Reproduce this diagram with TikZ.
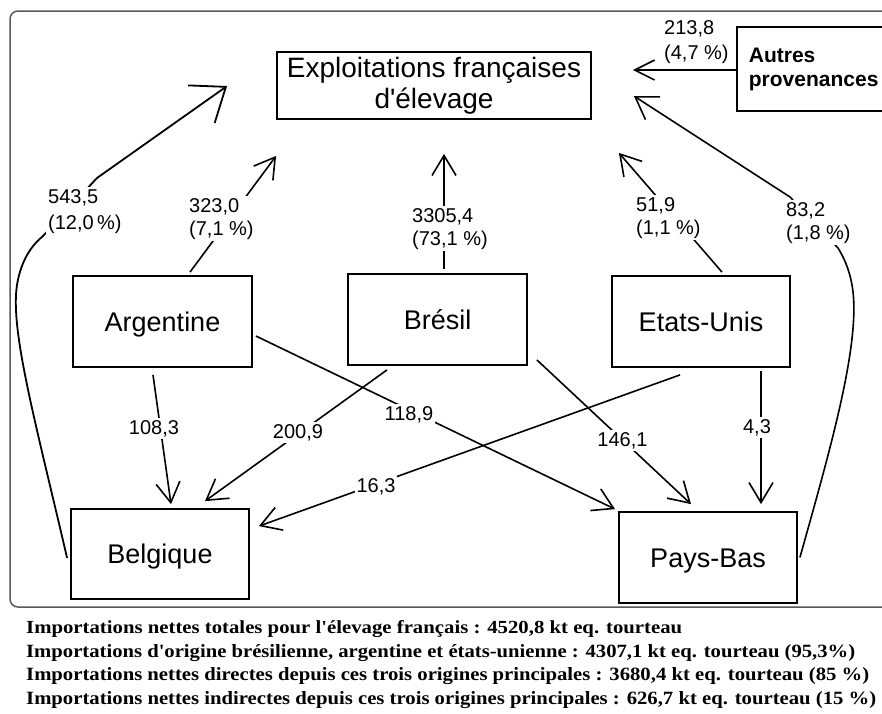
\documentclass[tikz,border=0pt]{standalone}
\usepackage{fontspec}
\setmainfont{Liberation Sans}
\newfontfamily\serifb{Liberation Serif}
\usetikzlibrary{arrows.meta}
\begin{document}
\begin{tikzpicture}[x=1pt,y=-1pt,
  box/.style={draw, line width=1.8pt, inner sep=0pt, font=\fontsize{27}{31}\selectfont},
  cbox/.style={box, text height=19pt, text depth=0pt},
  flow/.style={line width=1.6pt, -{Straight Barb[length=20pt,width=24pt]}},
  bigflow/.style={line width=1.8pt, -{Straight Barb[length=30pt,width=46pt]}},
  num/.style={fill=white, inner sep=2pt, font=\fontsize{20}{23}\selectfont, align=left},
  foot/.style={anchor=base west, inner sep=0pt},
]
\useasboundingbox (0,0) rectangle (882,713);
\clip (0,0) rectangle (882,713);
\draw[rounded corners=8pt, line width=1.5pt, black!65] (10,11) rectangle (920,607);

% boxes
\node[box, minimum width=314pt, minimum height=67pt, align=center, font=\fontsize{28}{31}\selectfont] (expl) at (434,85.5) {Exploitations françaises\\d\textquotesingle élevage};
\node[box, anchor=west, minimum height=84pt, text width=160pt, inner xsep=12pt, align=left, font=\bfseries\fontsize{21}{24}\selectfont] (aut) at (736,69) {Autres\\provenances};
\node[cbox, minimum width=179pt, minimum height=91pt] (arg) at (162.5,321.5) {Argentine};
\node[cbox, minimum width=179pt, minimum height=91pt] (bre) at (437.5,319.5) {Brésil};
\node[cbox, minimum width=178pt, minimum height=91pt] (eu) at (701,321.5) {Etats-Unis};
\node[cbox, minimum width=178pt, minimum height=90pt] (bel) at (160,554) {Belgique};
\node[cbox, minimum width=178pt, minimum height=91pt] (pb) at (708,557.5) {Pays-Bas};

% flows between countries
\draw[flow] ([xshift=-9.5pt,yshift=-7pt]arg.south) -- ([xshift=11pt,yshift=4pt]bel.north);
\draw[flow] ([xshift=-50.5pt,yshift=-4pt]bre.south) -- ([xshift=45pt,yshift=7pt]bel.north);
\draw[flow] ([xshift=3pt,yshift=-14.5pt]arg.east) -- ([xshift=-93pt,yshift=2pt]pb.north);
\draw[flow] ([xshift=9pt,yshift=6pt]bre.south east) -- ([xshift=-17pt,yshift=7pt]pb.north);
\draw[flow] ([xshift=-21pt,yshift=-7pt]eu.south) -- ([xshift=9pt,yshift=-18pt]bel.north east);
\draw[flow] ([xshift=60pt,yshift=-3pt]eu.south) -- ([xshift=53pt,yshift=7pt]pb.north);

% flows to France
\draw[flow] ([xshift=27.5pt,yshift=3pt]arg.north) -- ([yshift=-36pt]expl.south west);
\draw[flow] ([xshift=6.5pt,yshift=4pt]bre.north) -- ([xshift=10pt,yshift=-34pt]expl.south);
\draw[flow] ([xshift=21pt,yshift=3pt]eu.north) -- ([xshift=27pt,yshift=-33pt]expl.south east);
\draw[flow, -{Straight Barb[length=20pt,width=20pt]}] ([yshift=-1pt]aut.west) -- ([xshift=41pt,yshift=15.5pt]expl.east);
\draw[bigflow] ([xshift=-3pt,yshift=-4pt]bel.west) .. controls (35,420) and (10,330) .. (17,285)
   .. controls (21,260) and (32,245) .. (43,236) -- (97,178) -- ([xshift=-49pt,yshift=-0.5pt]expl.west);
\draw[flow, -{Straight Barb[length=21pt,width=27pt]}] ([xshift=2pt]pb.east) .. controls (830,450) and (862,340) .. (852,285)
   .. controls (849,268) and (843,256) .. (838,248) -- (790,197) -- ([xshift=42pt,yshift=-10.5pt]expl.east);

% labels
\node[num, anchor=base] (l1) at (154,434) {108,3};
\node[num, anchor=base] (l2) at (298,438) {200,9};
\node[num, anchor=base] (l3) at (409,420) {118,9};
\node[num, anchor=base] (l4) at (622.5,446) {146,1};
\node[num, anchor=base] (l5) at (376,492) {16,3};
\node[num, anchor=base] (l6) at (757,433) {4,3};
\node[num, anchor=base west, font=\fontsize{20}{26}\selectfont] (l7) at (46,229) {543,5\\(12,0\,\%)};
\node[num, anchor=base west] (l8) at (187,235) {323,0\\(7,1 \%)};
\node[num, anchor=base west] (l9) at (410,245) {3305,4\\(73,1 \%)};
\node[num, anchor=base west] (l10) at (634,234) {51,9\\(1,1 \%)};
\node[num, anchor=base west] (l11) at (784,239) {83,2\\(1,8 \%)};
\node[num, anchor=base west, font=\fontsize{20}{25}\selectfont] (l12) at (662,59) {213,8\\(4,7 \%)};

% footer
\node[foot] (t1) at (26,633) {\resizebox{656pt}{13pt}{\serifb\bfseries\fontsize{17}{17}\selectfont Importations nettes totales pour l\textquotesingle élevage français : 4520,8 kt eq. tourteau}};
\node[foot] (t2) at (26,657) {\resizebox{829pt}{13pt}{\serifb\bfseries\fontsize{17}{17}\selectfont Importations d\textquotesingle origine brésilienne, argentine et états-unienne : 4307,1 kt eq. tourteau (95,3\%)}};
\node[foot] (t3) at (26,680) {\resizebox{843pt}{13pt}{\serifb\bfseries\fontsize{17}{17}\selectfont Importations nettes directes depuis ces trois origines principales : 3680,4 kt eq. tourteau (85 \%)}};
\node[foot] (t4) at (26,704) {\resizebox{850pt}{13pt}{\serifb\bfseries\fontsize{17}{17}\selectfont Importations nettes indirectes depuis ces trois origines principales : 626,7 kt eq. tourteau (15 \%)}};
\end{tikzpicture}
\end{document}
